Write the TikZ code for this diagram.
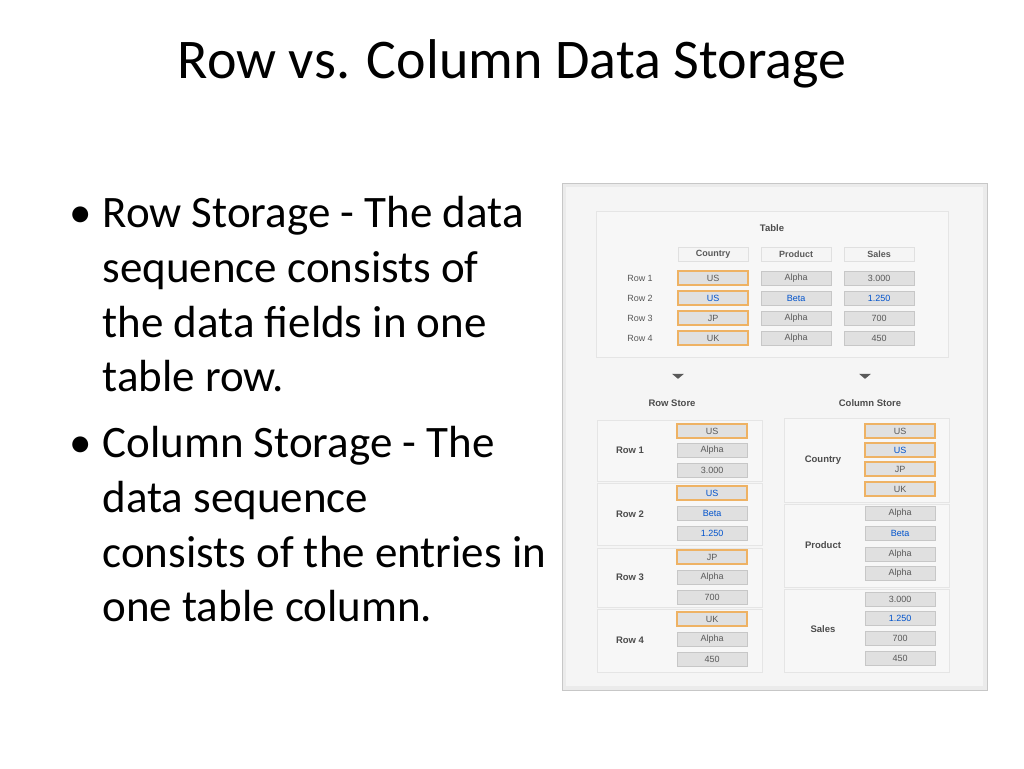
\documentclass[tikz,border=0pt]{standalone}
\usepackage{fontspec}
\setmainfont{Carlito}
\newfontfamily\arial{Liberation Sans}
\begin{document}
\begin{tikzpicture}[x=1pt,y=-1pt,
  panel/.style={draw=black!10,fill=black!3,drop shadow={opacity=0.2,shadow xshift=1pt,shadow yshift=-1pt}},
  cell/.style={draw=black!22,fill=black!12,minimum width=70pt,minimum height=14pt,inner sep=0pt,font=\arial\fontsize{9}{10}\selectfont,text=black!65},
  ocell/.style={cell,draw={rgb,255:red,238;green,178;blue,100},line width=1.1pt},
  hcell/.style={cell,fill=black!4,draw=black!12,font=\arial\bfseries\fontsize{9}{10}\selectfont},
  lab/.style={font=\arial\fontsize{9}{10}\selectfont,text=black!65},
  blab/.style={font=\arial\bfseries\fontsize{9.5}{10}\selectfont,text=black!70},
  bl/.style={text=blue!60!cyan!80!black},
  body/.style={anchor=base west,font=\fontsize{45}{50}\selectfont},
  tri/.style={fill=black!65,isosceles triangle,shape border rotate=-90,isosceles triangle apex angle=100,minimum size=5pt,inner sep=0pt}
]
\usetikzlibrary{shadows,shapes.geometric}
\useasboundingbox (0,0) rectangle (1024,768);
\fill[white] (0,0) rectangle (1024,768);
\node[font=\fontsize{56}{64}\selectfont] (title) at (512,64) {Row vs. Column Data Storage};
% bullets
\node[anchor=base,font=\fontsize{45}{50}\selectfont] (b1) at (81,227) {•};
\node[body] (l1) at (99,227) {Row Storage - The data};
\node[body] (l2) at (99,282) {sequence consists of};
\node[body] (l3) at (99,337) {the data fields in one};
\node[body] (l4) at (99,391) {table row.};
\node[anchor=base,font=\fontsize{45}{50}\selectfont] (b2) at (81,457) {•};
\node[body] (m1) at (99,457) {Column Storage - The};
\node[body] (m2) at (99,512) {data sequence};
\node[body] (m3) at (99,567) {consists of the entries in};
\node[body] (m4) at (99,621) {one table column.};
% image
\fill[black!8,draw=black!22] (562,183) rectangle (987,690);
\fill[black!4] (566,187) rectangle (983,686);
\filldraw[panel] (596,211) rectangle (948,357);
\node[blab] (tt) at (772,228) {Table};
\node[hcell] (hc) at (713,254) {Country};
\node[hcell] (hp) at (796,254) {Product};
\node[hcell] (hs) at (879,254) {Sales};
\foreach \y/\r/\c/\p/\s/\b in {278/Row 1/US/Alpha/3.000/0,298/Row 2/US/Beta/1.250/1,318/Row 3/JP/Alpha/700/0,338/Row 4/UK/Alpha/450/0}{
  \node[lab] (rl\y) at (640,\y) {\r};
  \ifnum\b=1
   \node[ocell,bl] (c\y) at (713,\y) {\c};
   \node[cell,bl] (p\y) at (796,\y) {\p};
   \node[cell,bl] (s\y) at (879,\y) {\s};
  \else
   \node[ocell] (c\y) at (713,\y) {\c};
   \node[cell] (p\y) at (796,\y) {\p};
   \node[cell] (s\y) at (879,\y) {\s};
  \fi
}
\node[tri] (t1) at (678,376) {};
\node[tri] (t2) at (865,376) {};
\node[blab] (rs) at (672,403) {Row Store};
\node[blab] (cs) at (870,403) {Column Store};
% row store
\foreach \a/\b/\r in {420/481/1,483/545/2,548/607/3,609/672/4}{
  \filldraw[panel] (597,\a) rectangle (762,\b);
  \node[blab] (rr\r) at (630,{(\a+\b)/2}) {Row \r};
}
\foreach \y/\t/\s in {431/US/ocell,450/Alpha/cell,470/3.000/cell,557/JP/ocell,577/Alpha/cell,597/700/cell,619/UK/ocell,639/Alpha/cell,659/450/cell}{
  \node[\s] (r\y) at (712,\y) {\t};
}
\node[ocell,bl] (r493) at (712,493) {US};
\node[cell,bl] (r513) at (712,513) {Beta};
\node[cell,bl] (r533) at (712,533) {1.250};
% column store
\filldraw[panel] (784,418) rectangle (949,502);
\filldraw[panel] (784,504) rectangle (949,587);
\filldraw[panel] (784,589) rectangle (949,672);
\node[blab] (cc) at (823,460) {Country};
\node[blab] (cp) at (823,545) {Product};
\node[blab] (cS) at (823,629) {Sales};
\foreach \y/\t/\s in {431/US/ocell,469/JP/ocell,489/UK/ocell,513/Alpha/cell,554/Alpha/cell,573/Alpha/cell,599/3.000/cell,638/700/cell,658/450/cell}{
  \node[\s] (k\y) at (900,\y) {\t};
}
\node[ocell,bl] (k450) at (900,450) {US};
\node[cell,bl] (k533) at (900,533) {Beta};
\node[cell,bl] (k618) at (900,618) {1.250};
\end{tikzpicture}
\end{document}
